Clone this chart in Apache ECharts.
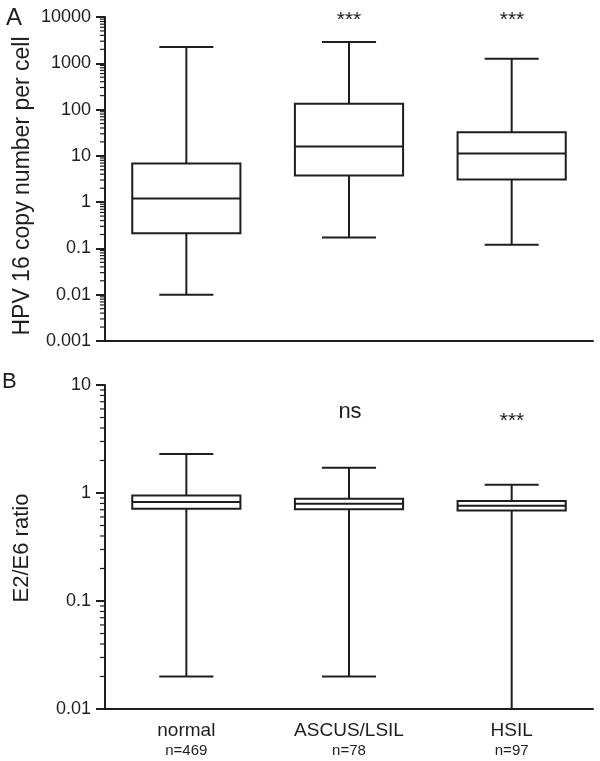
<!DOCTYPE html>
<html><head><meta charset="utf-8">
<script src="https://cdn.jsdelivr.net/npm/echarts@6/dist/echarts.min.js"></script>
<style>html,body{margin:0;padding:0;background:#fff}#c{width:600px;height:761px}</style>
</head><body><div id="c"></div>
<script>
const categories = ['normal', 'ASCUS/LSIL', 'HSIL'];
const sampleSizes = ['n=469', 'n=78', 'n=97'];
// each box: [min, q1, median, q3, max]
const copyNumberBoxes = [
  [0.01, 0.214, 1.2, 6.85, 2260],
  [0.173, 3.77, 16, 133, 2900],
  [0.12, 3.09, 11.3, 32.5, 1250]
];
const ratioBoxes = [
  [0.02, 0.716, 0.826, 0.95, 2.3],
  [0.02, 0.706, 0.796, 0.885, 1.71],
  [0.01, 0.69, 0.762, 0.843, 1.19]
];
const copyNumberTicks = ['0.001', '0.01', '0.1', '1', '10', '100', '1000', '10000'];
const ratioTicks = ['0.01', '0.1', '1', '10'];
const copyNumberSignif = ['', '***', '***'];
const ratioSignif = ['', 'ns', '***'];

const INK = '#1e1e1e';
const FONT = '"Liberation Sans", Arial, sans-serif';

function minorValues(ticks) {
  const out = [];
  for (let i = 0; i < ticks.length - 1; i++) {
    const d = parseFloat(ticks[i]);
    for (let m = 2; m <= 9; m++) out.push([0, +(m * d).toPrecision(6)]);
  }
  return out;
}
function fmt(ticks) {
  return function (v) {
    let best = ticks[0], bd = Infinity;
    ticks.forEach(t => { const d = Math.abs(Math.log10(parseFloat(t)) - Math.log10(v)); if (d < bd) { bd = d; best = t; } });
    return best;
  };
}

function boxRender(params, api) {
  const i = api.value(0);
  const pMin = api.coord([i, api.value(1)]);
  const pQ1 = api.coord([i, api.value(2)]);
  const pMed = api.coord([i, api.value(3)]);
  const pQ3 = api.coord([i, api.value(4)]);
  const pMax = api.coord([i, api.value(5)]);
  const band = params.coordSys.width / categories.length;
  const bw = band * 0.665, cw = bw / 2;
  const x = pMed[0];
  const cs = params.coordSys;
  const bottom = cs.y + cs.height;
  const yMin = Math.min(pMin[1], bottom);
  const st = { stroke: INK, lineWidth: 2, fill: null };
  return {
    type: 'group',
    children: [
      { type: 'line', shape: { x1: x, y1: pQ3[1], x2: x, y2: pMax[1] }, style: st },
      { type: 'line', shape: { x1: x, y1: pQ1[1], x2: x, y2: yMin }, style: st },
      { type: 'line', shape: { x1: x - cw / 2, y1: pMax[1], x2: x + cw / 2, y2: pMax[1] }, style: st },
      { type: 'line', shape: { x1: x - cw / 2, y1: yMin, x2: x + cw / 2, y2: yMin }, style: st, invisible: pMin[1] >= bottom - 0.5 },
      { type: 'rect', shape: { x: x - bw / 2, y: pQ3[1], width: bw, height: pQ1[1] - pQ3[1] }, style: { stroke: INK, lineWidth: 2, fill: '#fff' } },
      { type: 'line', shape: { x1: x - bw / 2, y1: pMed[1], x2: x + bw / 2, y2: pMed[1] }, style: st }
    ]
  };
}
function minorRender(params, api) {
  const p = api.coord([0, api.value(1)]);
  const x0 = params.coordSys.x;
  return { type: 'line', shape: { x1: x0 - 5, y1: p[1], x2: x0, y2: p[1] }, style: { stroke: INK, lineWidth: 1.2 } };
}

const axisLineStyle = { color: INK, width: 2 };
const chart = echarts.init(document.getElementById('c'), null, { renderer: 'canvas' });
chart.setOption({
  animation: false,
  backgroundColor: '#fff',
  textStyle: { fontFamily: FONT },
  grid: [
    { left: 105, top: 17, width: 488, height: 324 },
    { left: 105, top: 385, width: 488, height: 324 }
  ],
  xAxis: [
    { type: 'category', gridIndex: 0, data: categories,
      axisLine: { lineStyle: axisLineStyle }, axisTick: { alignWithLabel: true, length: 9, lineStyle: axisLineStyle },
      axisLabel: { show: false }, splitLine: { show: false } },
    { type: 'category', gridIndex: 1, data: categories,
      axisLine: { lineStyle: axisLineStyle }, axisTick: { alignWithLabel: true, length: 9, lineStyle: axisLineStyle },
      axisLabel: { margin: 11, formatter: (v, i) => '{a|' + v + '}\n{b|' + sampleSizes[i] + '}',
        rich: { a: { fontSize: 19, lineHeight: 21, color: INK, fontFamily: FONT }, b: { fontSize: 15, lineHeight: 19, color: INK, fontFamily: FONT } } },
      splitLine: { show: false } }
  ],
  yAxis: [
    { type: 'log', gridIndex: 0, logBase: 10, min: 0.001, max: 10000, splitNumber: 7,
      axisLine: { show: true, lineStyle: axisLineStyle }, axisTick: { show: true, length: 9, lineStyle: axisLineStyle },
      axisLabel: { fontSize: 18, color: INK, margin: 14, formatter: fmt(copyNumberTicks) }, splitLine: { show: false } },
    { type: 'log', gridIndex: 1, logBase: 10, min: 0.01, max: 10, splitNumber: 3,
      axisLine: { show: true, lineStyle: axisLineStyle }, axisTick: { show: true, length: 9, lineStyle: axisLineStyle },
      axisLabel: { fontSize: 18, color: INK, margin: 14, formatter: fmt(ratioTicks) }, splitLine: { show: false } }
  ],
  series: [
    { type: 'custom', xAxisIndex: 0, yAxisIndex: 0, renderItem: minorRender, data: minorValues(copyNumberTicks), clip: false, silent: true },
    { type: 'custom', xAxisIndex: 1, yAxisIndex: 1, renderItem: minorRender, data: minorValues(ratioTicks), clip: false, silent: true },
    { type: 'custom', xAxisIndex: 0, yAxisIndex: 0, renderItem: boxRender, data: copyNumberBoxes.map((b, i) => [i].concat(b)), clip: false },
    { type: 'custom', xAxisIndex: 1, yAxisIndex: 1, renderItem: boxRender, data: ratioBoxes.map((b, i) => [i].concat(b)), clip: false }
  ],
  graphic: [
    { type: 'text', x: 6, y: 18, style: { text: 'A', font: '24px ' + FONT, fill: INK, verticalAlign: 'middle' } },
    { type: 'text', x: 2, y: 382, style: { text: 'B', font: '22px ' + FONT, fill: INK, verticalAlign: 'middle' } },
    { type: 'text', x: 23, y: 186, rotation: Math.PI / 2, style: { text: 'HPV 16 copy number per cell', font: '23px ' + FONT, fill: INK, align: 'center', verticalAlign: 'middle' } },
    { type: 'text', x: 22, y: 548, rotation: Math.PI / 2, style: { text: 'E2/E6 ratio', font: '22px ' + FONT, fill: INK, align: 'center', verticalAlign: 'middle' } },
    { type: 'text', x: 349, y: 20, style: { text: copyNumberSignif[1], font: '21px ' + FONT, fill: INK, align: 'center', verticalAlign: 'middle' } },
    { type: 'text', x: 512, y: 20, style: { text: copyNumberSignif[2], font: '21px ' + FONT, fill: INK, align: 'center', verticalAlign: 'middle' } },
    { type: 'text', x: 350, y: 412, style: { text: ratioSignif[1], font: '22px ' + FONT, fill: INK, align: 'center', verticalAlign: 'middle' } },
    { type: 'text', x: 512, y: 421, style: { text: ratioSignif[2], font: '21px ' + FONT, fill: INK, align: 'center', verticalAlign: 'middle' } }
  ]
});
</script></body></html>
